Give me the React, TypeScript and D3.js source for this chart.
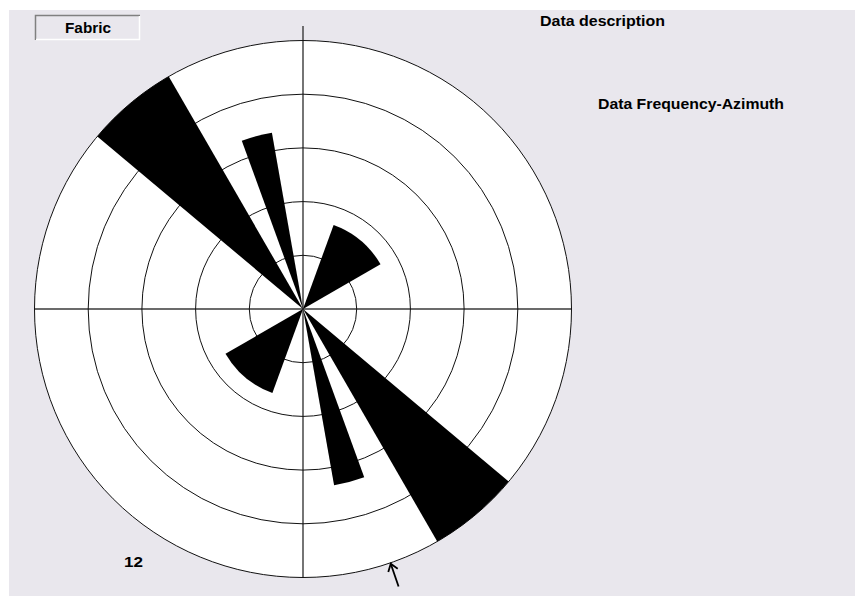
import * as d3 from "d3";
import { useRef, useEffect } from "react";

// rose sectors (azimuth degrees, clockwise from north) and their frequency
const sectorFrom = [20, 130, 160, 200, 310, 340];
const sectorTo = [60, 150, 170, 240, 330, 350];
const sectorFreq = [4, 12, 8, 4, 12, 8];

const maxFreq = 12;
const ringCount = 5;
const meanAzimuth = 161;

const title = "Data description";
const subtitle = "Data Frequency-Azimuth";
const boxLabel = "Fabric";

const App = () => {
  const container = useRef<SVGSVGElement | null>(null);

  useEffect(() => {
    document.body.style.margin = "0";
    createChart();
  });

  const createChart = () => {
    const svg = d3.select(container.current);
    svg.selectAll("*").remove();

    const width = 855;
    const height = 596;
    const cx = 303;
    const cy = 309;
    const outerR = 268.5;
    const font = "'Liberation Sans', Arial, sans-serif";

    svg.attr("width", width).attr("height", height);

    // page background
    svg
      .append("rect")
      .attr("width", width)
      .attr("height", height)
      .attr("fill", "#ffffff");
    svg
      .append("rect")
      .attr("x", 9)
      .attr("y", 10)
      .attr("width", width - 9)
      .attr("height", height - 10)
      .attr("fill", "#e9e7ed");

    const rScale = d3.scaleLinear().domain([0, maxFreq]).range([0, outerR]);
    const rad = (deg: number) => (deg * Math.PI) / 180;

    const g = svg.append("g").attr("transform", `translate(${cx},${cy})`);

    // white disc
    g.append("circle").attr("r", outerR).attr("fill", "#ffffff");

    // axes
    g.append("line")
      .attr("x1", -outerR)
      .attr("x2", outerR)
      .attr("y1", 0)
      .attr("y2", 0)
      .attr("stroke", "#3a3a3a")
      .attr("stroke-width", 1.4);
    g.append("line")
      .attr("x1", 0)
      .attr("x2", 0)
      .attr("y1", 26 - cy)
      .attr("y2", outerR)
      .attr("stroke", "#3a3a3a")
      .attr("stroke-width", 1.4);

    // rings
    const rings = d3.range(1, ringCount + 1).map((i) => (maxFreq * i) / ringCount);
    g.selectAll(".ring")
      .data(rings)
      .join("circle")
      .attr("class", "ring")
      .attr("r", (d) => rScale(d))
      .attr("fill", "none")
      .attr("stroke", "#111")
      .attr("stroke-width", 1);

    // petals
    const sectors = sectorFreq.map((f, i) => ({
      from: sectorFrom[i],
      to: sectorTo[i],
      freq: f,
    }));
    const arc = d3
      .arc<any>()
      .innerRadius(0)
      .outerRadius((d) => rScale(d.freq))
      .startAngle((d) => rad(d.from))
      .endAngle((d) => rad(d.to));
    g.selectAll(".petal")
      .data(sectors)
      .join("path")
      .attr("class", "petal")
      .attr("d", arc)
      .attr("fill", "#000");

    // mean direction arrow
    const a = rad(meanAzimuth);
    const px = (r: number) => r * Math.sin(a);
    const py = (r: number) => -r * Math.cos(a);
    const tipR = outerR + 1;
    const tailR = outerR + 25;
    g.append("line")
      .attr("x1", px(tailR))
      .attr("y1", py(tailR))
      .attr("x2", px(tipR))
      .attr("y2", py(tipR))
      .attr("stroke", "#000")
      .attr("stroke-width", 1.8);
    const head = [-0.018, 0.018].map((da) => {
      const r = tipR + 7;
      return [r * Math.sin(a + da), -r * Math.cos(a + da)];
    });
    g.append("path")
      .attr(
        "d",
        `M${head[0][0]},${head[0][1]}L${px(tipR)},${py(tipR)}L${head[1][0]},${head[1][1]}`
      )
      .attr("fill", "none")
      .attr("stroke", "#000")
      .attr("stroke-width", 1.8);

    // scale label
    svg
      .append("text")
      .attr("x", 124)
      .attr("y", 567)
      .attr("font-family", font)
      .attr("font-weight", "bold")
      .attr("font-size", 15)
      .attr("textLength", 19)
      .attr("lengthAdjust", "spacingAndGlyphs")
      .attr("fill", "#000")
      .text(String(maxFreq));

    // Fabric box (sunken)
    svg
      .append("rect")
      .attr("x", 35)
      .attr("y", 15)
      .attr("width", 105)
      .attr("height", 25)
      .attr("fill", "#e9e7ed");
    svg
      .append("path")
      .attr("d", "M35.5,40V15.5H140")
      .attr("fill", "none")
      .attr("stroke", "#808080")
      .attr("stroke-width", 1.5);
    svg
      .append("path")
      .attr("d", "M36,39.5H139.5V16")
      .attr("fill", "none")
      .attr("stroke", "#ffffff")
      .attr("stroke-width", 1.5);
    svg
      .append("text")
      .attr("x", 65)
      .attr("y", 33)
      .attr("font-family", font)
      .attr("font-weight", "bold")
      .attr("font-size", 15)
      .attr("textLength", 46)
      .attr("lengthAdjust", "spacingAndGlyphs")
      .attr("fill", "#000")
      .text(boxLabel);

    // titles
    svg
      .append("text")
      .attr("x", 540)
      .attr("y", 26)
      .attr("font-family", font)
      .attr("font-weight", "bold")
      .attr("font-size", 15)
      .attr("textLength", 125)
      .attr("lengthAdjust", "spacingAndGlyphs")
      .attr("fill", "#000")
      .text(title);
    svg
      .append("text")
      .attr("x", 598)
      .attr("y", 109)
      .attr("font-family", font)
      .attr("font-weight", "bold")
      .attr("font-size", 15)
      .attr("textLength", 186)
      .attr("lengthAdjust", "spacingAndGlyphs")
      .attr("fill", "#000")
      .text(subtitle);

    return;
  };

  return (
    <div style={{ position: "absolute", left: 0, top: 0 }}>
      <svg ref={container}></svg>
    </div>
  );
};

export default App;
